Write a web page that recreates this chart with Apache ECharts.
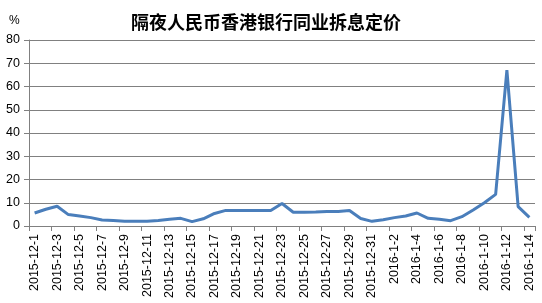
<!DOCTYPE html>
<html><head><meta charset="utf-8">
<script src="https://cdn.jsdelivr.net/npm/echarts@6/dist/echarts.min.js"></script>
<style>html,body{margin:0;padding:0;background:#fff}#c{width:542px;height:303px}</style>
</head><body><div id="c"></div>
<script>
var title = "隔夜人民币香港银行同业拆息定价";
var unitLabel = "%";
var categories = [
"2015-12-1","2015-12-2","2015-12-3","2015-12-4","2015-12-5","2015-12-6","2015-12-7","2015-12-8","2015-12-9","2015-12-10",
"2015-12-11","2015-12-12","2015-12-13","2015-12-14","2015-12-15","2015-12-16","2015-12-17","2015-12-18","2015-12-19","2015-12-20",
"2015-12-21","2015-12-22","2015-12-23","2015-12-24","2015-12-25","2015-12-26","2015-12-27","2015-12-28","2015-12-29","2015-12-30",
"2015-12-31","2016-1-1","2016-1-2","2016-1-3","2016-1-4","2016-1-5","2016-1-6","2016-1-7","2016-1-8","2016-1-9",
"2016-1-10","2016-1-11","2016-1-12","2016-1-13","2016-1-14"];
var rates = [
5.6,7.2,8.5,4.9,4.3,3.6,2.6,2.4,2.0,2.0,
2.0,2.4,2.9,3.3,1.9,3.1,5.4,6.7,6.7,6.7,
6.7,6.7,9.7,5.9,5.9,6.0,6.2,6.2,6.7,3.2,
2.0,2.7,3.6,4.3,5.6,3.3,2.9,2.3,4.0,6.9,
10.0,13.6,67,8.3,3.7];
var yTicks = {min:0, max:80, interval:10};

var chart = echarts.init(document.getElementById('c'), null, {renderer:'canvas'});
chart.setOption({
  animation:false,
  title:{text:title, left:261, top:8, textAlign:'center',
    textStyle:{fontFamily:'"Noto Sans CJK SC"', fontSize:18, fontWeight:'bold', color:'#000'}},
  graphic:[{type:'text', left:9, top:15, style:{text:unitLabel, font:'12px "Liberation Sans"', fill:'#000'}}],
  grid:{left:29, right:7, top:40, bottom:77, containLabel:false},
  xAxis:{type:'category', data:categories, boundaryGap:true,
    axisLine:{lineStyle:{color:'#808080', width:1}},
    axisTick:{show:true, interval:1, length:5, lineStyle:{color:'#808080'}},
    axisLabel:{interval:1, rotate:90, fontSize:12.5, color:'#000', fontFamily:'"Liberation Sans"', margin:8}},
  yAxis:{type:'value', min:yTicks.min, max:yTicks.max, interval:yTicks.interval,
    axisLine:{show:true, lineStyle:{color:'#808080'}},
    axisTick:{show:true, length:5, lineStyle:{color:'#808080'}},
    splitLine:{lineStyle:{color:'#808080', width:1}},
    axisLabel:{fontSize:12.5, color:'#000', fontFamily:'"Liberation Sans"', margin:9}},
  series:[{type:'line', data:rates, symbol:'none', smooth:false,
    lineStyle:{color:'#4A7EBB', width:3}}]
});
</script></body></html>
